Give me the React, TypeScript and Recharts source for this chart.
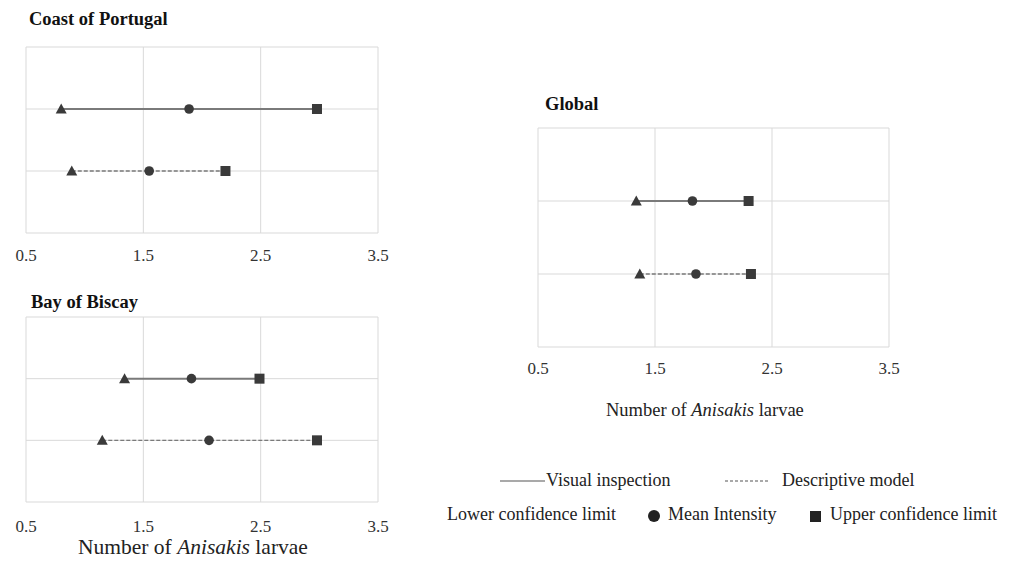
import { LineChart, Line, XAxis, YAxis, CartesianGrid } from 'recharts'

const FONT = '"Liberation Serif", "Times New Roman", serif'
const xTicks = [0.5, 1.5, 2.5, 3.5]
const rowTicks = [0, 1, 2, 3]

// [lower confidence limit, mean intensity, upper confidence limit]
const portugalVisual = [0.8, 1.89, 2.98]
const portugalModel = [0.89, 1.55, 2.2]
const biscayVisual = [1.34, 1.91, 2.49]
const biscayModel = [1.15, 2.06, 2.98]
const globalVisual = [1.34, 1.82, 2.3]
const globalModel = [1.37, 1.85, 2.32]

const MARK = '#3a3a3a'

function toPoints(vals: number[], row: number) {
  return vals.map((v) => ({ x: v, y: row }))
}

function Marker({ cx, cy, index }: any) {
  if (cx == null || cy == null) return null
  if (index === 0) {
    return <polygon points={`${cx},${cy - 5.5} ${cx + 5.5},${cy + 4.5} ${cx - 5.5},${cy + 4.5}`} fill={MARK} />
  }
  if (index === 1) return <circle cx={cx} cy={cy} r={4.8} fill={MARK} />
  return <rect x={cx - 5} y={cy - 5} width={10} height={10} fill={MARK} />
}

type PanelProps = {
  plotLeft: number
  plotTop: number
  plotW: number
  plotH: number
  visual: number[]
  model: number[]
  tickGap: number
}

function Panel({ plotLeft, plotTop, plotW, plotH, visual, model, tickGap }: PanelProps) {
  return (
    <div style={{ position: 'absolute', left: plotLeft - 30, top: plotTop - 10 }}>
      <LineChart width={plotW + 60} height={plotH + 50} margin={{ top: 10, right: 30, bottom: 0, left: 30 }}>
        <CartesianGrid stroke="#d9d9d9" strokeWidth={1} />
        <XAxis
          type="number"
          dataKey="x"
          domain={[0.5, 3.5]}
          ticks={xTicks}
          height={40}
          axisLine={false}
          tickLine={false}
          tickMargin={tickGap}
          tick={{ fontFamily: FONT, fontSize: 17, fill: '#333' }}
          tickFormatter={(v: number) => v.toFixed(1)}
        />
        <YAxis type="number" dataKey="y" domain={[0, 3]} ticks={rowTicks} hide />
        <Line
          data={toPoints(visual, 2)}
          dataKey="y"
          stroke="#7a7a7a"
          strokeWidth={2}
          dot={(p: any) => <Marker key={`v${p.index}`} {...p} />}
          isAnimationActive={false}
        />
        <Line
          data={toPoints(model, 1)}
          dataKey="y"
          stroke="#7a7a7a"
          strokeWidth={1.3}
          strokeDasharray="4 2"
          dot={(p: any) => <Marker key={`m${p.index}`} {...p} />}
          isAnimationActive={false}
        />
      </LineChart>
    </div>
  )
}

const titleStyle = { position: 'absolute' as const, fontFamily: FONT, fontWeight: 700, fontSize: 18.5, color: '#111', lineHeight: '22px', whiteSpace: 'nowrap' as const }
const textStyle = { position: 'absolute' as const, fontFamily: FONT, fontSize: 18, color: '#222', lineHeight: '22px', whiteSpace: 'nowrap' as const }

function AxisTitle({ left, top, size }: { left: number; top: number; size: number }) {
  return (
    <div style={{ ...textStyle, left, top, fontSize: size, lineHeight: `${Math.round(size * 1.15)}px` }}>
      Number of <i>Anisakis</i> larvae
    </div>
  )
}

export default function App() {
  return (
    <div style={{ position: 'absolute', left: 0, top: 0, width: 1009, height: 562, background: '#fff', overflow: 'hidden' }}>
      <div style={{ ...titleStyle, left: 29, top: 8 }}>Coast of Portugal</div>
      <Panel plotLeft={26} plotTop={47} plotW={352} plotH={186} visual={portugalVisual} model={portugalModel} tickGap={10} />

      <div style={{ ...titleStyle, left: 31, top: 291 }}>Bay of Biscay</div>
      <Panel plotLeft={26} plotTop={317} plotW={352} plotH={185} visual={biscayVisual} model={biscayModel} tickGap={12} />
      <AxisTitle left={78} top={535} size={21.5} />

      <div style={{ ...titleStyle, left: 545, top: 93 }}>Global</div>
      <Panel plotLeft={538} plotTop={128} plotW={351} plotH={219} visual={globalVisual} model={globalModel} tickGap={9} />
      <AxisTitle left={606} top={400} size={18.5} />

      {/* legend */}
      <svg style={{ position: 'absolute', left: 0, top: 0 }} width={1009} height={562}>
        <line x1={500} x2={545} y1={481} y2={481} stroke="#555" strokeWidth={1.2} />
        <line x1={725} x2={770} y1={481} y2={481} stroke="#555" strokeWidth={1.2} strokeDasharray="3 2" />
        <circle cx={654} cy={516} r={6} fill="#222" />
        <rect x={810} y={511} width={11} height={11} fill="#222" />
      </svg>
      <div style={{ ...textStyle, left: 546, top: 469 }}>Visual inspection</div>
      <div style={{ ...textStyle, left: 782, top: 469 }}>Descriptive model</div>
      <div style={{ ...textStyle, left: 447, top: 503 }}>Lower confidence limit</div>
      <div style={{ ...textStyle, left: 668, top: 503 }}>Mean Intensity</div>
      <div style={{ ...textStyle, left: 830, top: 503 }}>Upper confidence limit</div>
    </div>
  )
}
